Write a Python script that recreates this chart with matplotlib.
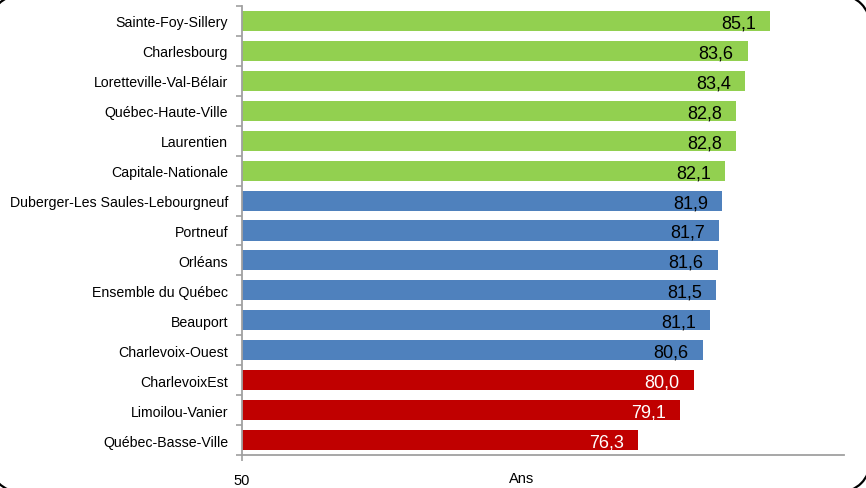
import matplotlib
matplotlib.use("Agg")
import matplotlib.pyplot as plt
from matplotlib.patches import Arc
from matplotlib.transforms import IdentityTransform, offset_copy
import numpy as np

plt.rcParams['font.family'] = ['Liberation Sans', 'DejaVu Sans']

categories = ["Sainte-Foy-Sillery", "Charlesbourg", "Loretteville-Val-Bélair",
              "Québec-Haute-Ville", "Laurentien", "Capitale-Nationale",
              "Duberger-Les Saules-Lebourgneuf", "Portneuf", "Orléans",
              "Ensemble du Québec", "Beauport", "Charlevoix-Ouest",
              "CharlevoixEst", "Limoilou-Vanier", "Québec-Basse-Ville"]
values = [85.1, 83.6, 83.4, 82.8, 82.8, 82.1, 81.9, 81.7, 81.6, 81.5, 81.1, 80.6,
          80.0, 79.1, 76.3]
groups = ["high"] * 6 + ["mid"] * 6 + ["low"] * 3
group_colors = {"high": "#92D050", "mid": "#4F81BD", "low": "#C00000"}
label_colors = {"high": "black", "mid": "black", "low": "white"}
x_min, x_max = 50, 90

W, H = 866, 489
fig = plt.figure(figsize=(W / 100, H / 100), dpi=100)
ax = fig.add_axes([242/W, 1-456/H, (844-242)/W, (456-7)/H])

y = np.arange(len(categories))
colors = [group_colors[g] for g in groups]
ax.barh(y, [v - x_min for v in values], left=x_min, height=0.67, color=colors)

ax.set_xlim(x_min, x_max)
ax.set_ylim(len(categories) - 0.5, -0.5)

ax.set_yticks(y)
ax.set_yticklabels(categories, fontsize=10.2)
ax.set_yticks(np.arange(len(categories) + 1) - 0.5, minor=True)
ax.tick_params(axis='y', which='major', length=0, pad=10)
ax.tick_params(axis='y', which='minor', length=4, color='#A0A0A0', width=1.2)

ax.set_xticks([50])
ax.set_xticklabels(["50"], fontsize=10.5)
ax.tick_params(axis='x', length=4, color='#A0A0A0', width=1.2, pad=9)
ax.set_xlabel("Ans", fontsize=10.5)
ax.xaxis.set_label_coords(0.465, -0.035)
ax.xaxis.label.set_va('top')

for s in ['top', 'right']:
    ax.spines[s].set_visible(False)
for s in ['left', 'bottom']:
    ax.spines[s].set_color('#A0A0A0')
    ax.spines[s].set_linewidth(1.3)

tr = offset_copy(ax.transData, fig=fig, x=-14, y=-2, units='dots')
for yi, v, g in zip(y, values, groups):
    ax.text(v, yi, f"{v:.1f}".replace('.', ','), ha='right', va='center',
            fontsize=13, color=label_colors[g], transform=tr, clip_on=False)

# rounded frame corners (frame edges lie just outside the image)
R = 30
corners = [((20, H - 26), 90, 180), ((840, H - 26), 0, 90),
           ((20, 26), 180, 270), ((840, 26), 270, 360)]
for (cx, cy), t1, t2 in corners:
    fig.add_artist(Arc((cx, cy), 2 * R, 2 * R, theta1=t1, theta2=t2,
                       transform=IdentityTransform(), edgecolor='black',
                       linewidth=1.6))

fig.savefig("out.png", dpi=100)
